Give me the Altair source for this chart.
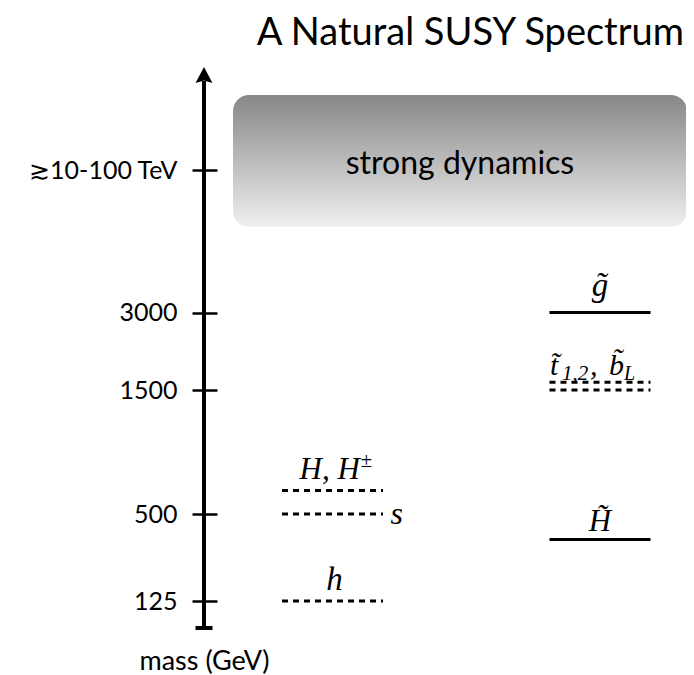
import altair as alt
import pandas as pd

# ---------------- data ----------------
level_names = ["h", "s", "H", "gluino", "stop_b", "stop_t", "higgsino"]
level_columns = ["higgs", "higgs", "higgs", "susy", "susy", "susy", "susy"]
level_masses = [125, 500, 690, 3000, 1500, 1650, 390]
level_styles = ["dashed", "dashed", "dashed", "solid", "dashed", "dashed", "solid"]

tick_values = [125, 500, 1500, 3000, 30000]
tick_labels = ["125", "500", "1500", "3000", "≳10-100 TeV"]

region_names = ["strong dynamics"]
region_low = [10000]
region_high = [100000]
region_mid = [30000]

axis_bottom = [0]
axis_top = [300000]

# ---------------- layout / style ----------------
COL_CENTER = {"axis": 0.0, "higgs": 1.285, "susy": 3.96}
HALF = 0.505
REGION_X = (0.29, 4.83)
CAP_HALF = 0.085
SHAFT_TOP = 200000

MATH_FONT = "Liberation Serif"
SANS = "Lato"

xscale = alt.Scale(domain=[0.13, 4.82], range=[0, 469], zero=False, nice=False)
yscale = alt.Scale(
    domain=[0, 125, 500, 1500, 3000, 10000, 30000, 100000, 300000],
    range=[568, 541, 454, 330, 252.5, 167, 110, 35, 7],
    zero=False, nice=False,
)

label_map = " : ".join(
    f"datum.value == {v} ? '{t}'" for v, t in zip(tick_values, tick_labels)
) + " : ''"

yaxis = alt.Axis(
    values=tick_values,
    labelExpr=label_map,
    domain=False,
    grid=False,
    ticks=True,
    tickSize=25,
    tickWidth=2.5,
    tickColor="black",
    labelPadding=15,
    labelFont=SANS,
    labelFontSize=25,
    labelColor="black",
    labelOverlap=False,
    labelBound=False,
    title="mass (GeV)",
    titleAngle=0,
    titleX=-13,
    titleY=601,
    titleAlign="center",
    titleBaseline="middle",
    titleFont=SANS,
    titleFontSize=27,
    titleFontWeight="normal",
    titleColor="black",
)

levels = pd.DataFrame({
    "name": level_names,
    "column": level_columns,
    "mass": level_masses,
    "style": level_styles,
})
levels["center"] = levels["column"].map(COL_CENTER)
levels["x1"] = levels["center"] - HALF
levels["x2"] = levels["center"] + HALF

regions = pd.DataFrame({
    "name": region_names, "low": region_low, "high": region_high, "mid": region_mid,
})
regions["x1"] = REGION_X[0]
regions["x2"] = REGION_X[1]
regions["xc"] = (REGION_X[0] + REGION_X[1]) / 2

axis_df = pd.DataFrame({"bottom": axis_bottom, "top": axis_top})
axis_df["x"] = COL_CENTER["axis"]
axis_df["xl"] = -CAP_HALF
axis_df["xr"] = CAP_HALF
axis_df["shaft"] = SHAFT_TOP

gradient = alt.LinearGradient(
    gradient="linear",
    stops=[alt.GradientStop(color="#878787", offset=0),
           alt.GradientStop(color="#efefef", offset=1)],
    x1=0, x2=0, y1=0, y2=1,
)

box = alt.Chart(regions).mark_rect(cornerRadius=16, fill=gradient).encode(
    x=alt.X("x1:Q", scale=xscale, axis=None),
    x2="x2:Q",
    y=alt.Y("high:Q", scale=yscale, axis=yaxis),
    y2="low:Q",
)
box_text = alt.Chart(regions).mark_text(
    font=SANS, fontSize=32, color="black", dy=-6, baseline="middle"
).encode(
    x=alt.X("xc:Q", scale=xscale, axis=None),
    y=alt.Y("mid:Q", scale=yscale, axis=yaxis),
    text="name:N",
)

shaft = alt.Chart(axis_df).mark_rule(strokeWidth=4, color="black").encode(
    x=alt.X("x:Q", scale=xscale, axis=None),
    y=alt.Y("bottom:Q", scale=yscale, axis=yaxis),
    y2="shaft:Q",
)
cap = alt.Chart(axis_df).mark_rule(strokeWidth=4, color="black").encode(
    x=alt.X("xl:Q", scale=xscale, axis=None),
    x2="xr:Q",
    y=alt.Y("bottom:Q", scale=yscale, axis=yaxis),
)
head = alt.Chart(axis_df).mark_point(
    shape="M0,0L-1.06,2L0,1.7L1.06,2Z", filled=True, size=256,
    color="black", opacity=1, strokeWidth=0,
).encode(
    x=alt.X("x:Q", scale=xscale, axis=None),
    y=alt.Y("top:Q", scale=yscale, axis=yaxis),
)

lines = alt.Chart(levels).mark_rule(strokeWidth=3, color="black").encode(
    x=alt.X("x1:Q", scale=xscale, axis=None),
    x2="x2:Q",
    y=alt.Y("mass:Q", scale=yscale, axis=yaxis),
    strokeDash=alt.StrokeDash(
        "style:N",
        scale=alt.Scale(domain=["solid", "dashed"], range=[[1, 0], [6, 5]]),
        legend=None,
    ),
)

# label segments: (level, text, fontSize, dx, dy, align)
segments = [
    ("h", "h", 33, 2, -11, "center"),
    ("s", "s", 32, 58, 10, "left"),
    ("H", "H, H", 31, -33, -11, "left"),
    ("H", "±", 21, 28, -23, "left"),
    ("gluino", "g\u0303", 33, 0, -17, "center"),
    ("stop_t", "t\u0303", 30, -50, -7, "left"),
    ("stop_t", "1,2", 21, -38, -2, "left"),
    ("stop_t", ",", 30, -10, -7, "left"),
    ("stop_t", "b\u0303", 30, 9, -7, "left"),
    ("stop_t", "L", 20, 24, -2, "left"),
    ("higgsino", "H\u0303", 31, 0, -9, "center"),
]

label_layers = []
for lvl, txt, fs, dx, dy, al in segments:
    label_layers.append(
        alt.Chart(levels).transform_filter(alt.datum.name == lvl).mark_text(
            font=MATH_FONT, fontStyle="italic", fontSize=fs, color="black",
            dx=dx, dy=dy, align=al, baseline="alphabetic",
        ).encode(
            x=alt.X("center:Q", scale=xscale, axis=None),
            y=alt.Y("mass:Q", scale=yscale, axis=yaxis),
            text=alt.value(txt),
        )
    )

chart = alt.layer(box, box_text, shaft, cap, head, lines, *label_layers).properties(
    width=469,
    height=580,
    autosize=alt.AutoSizeParams(type="none"),
    padding={"left": 209, "top": 52, "right": 0, "bottom": 35},
    title=alt.TitleParams(
        "A Natural SUSY Spectrum", anchor="end", font=SANS, fontSize=38,
        fontWeight="normal", color="black", offset=7, dx=-3,
    ),
    background="white",
).configure_view(stroke=None)

chart.save("out.html", embed_options={"renderer": "svg", "actions": False})
